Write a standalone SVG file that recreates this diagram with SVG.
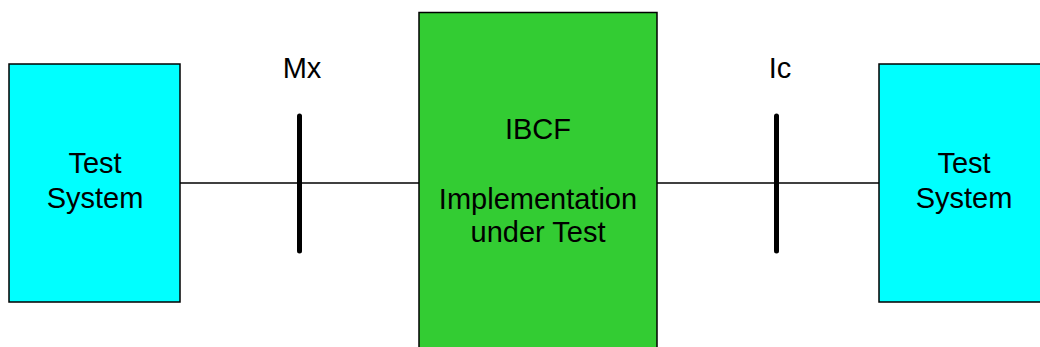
<svg xmlns="http://www.w3.org/2000/svg" width="1040" height="347" viewBox="0 0 1040 347">
<style>
.box{stroke:#000;stroke-width:1.5}
.ts{fill:#00FFFF}
.iut{fill:#33CC33}
text{font-family:"Liberation Sans",Arial,sans-serif;font-size:29px;fill:#000;text-anchor:middle}
.conn{stroke:#000;stroke-width:1.5;fill:none}
.bar{stroke:#000;stroke-width:5;stroke-linecap:round}
</style>
<g id="connectors">
<line class="conn" x1="180" y1="183" x2="419" y2="183"/>
<line class="conn" x1="657" y1="183" x2="879" y2="183"/>
<line class="bar" x1="299.5" y1="116" x2="299.5" y2="251"/>
<line class="bar" x1="776.5" y1="116" x2="776.5" y2="251"/>
<text x="302" y="78">Mx</text>
<text x="780" y="78">Ic</text>
</g>
<g id="test-system-left">
<rect class="box ts" x="9" y="64" width="171" height="238"/>
<text x="95" y="173">Test</text>
<text x="95" y="208">System</text>
</g>
<g id="iut">
<rect class="box iut" x="419" y="12.5" width="238" height="345"/>
<text x="538" y="139">IBCF</text>
<text x="538" y="209">Implementation</text>
<text x="538" y="242">under Test</text>
</g>
<g id="test-system-right">
<rect class="box ts" x="879" y="64" width="171" height="238"/>
<text x="964" y="173">Test</text>
<text x="964" y="208">System</text>
</g>
</svg>
